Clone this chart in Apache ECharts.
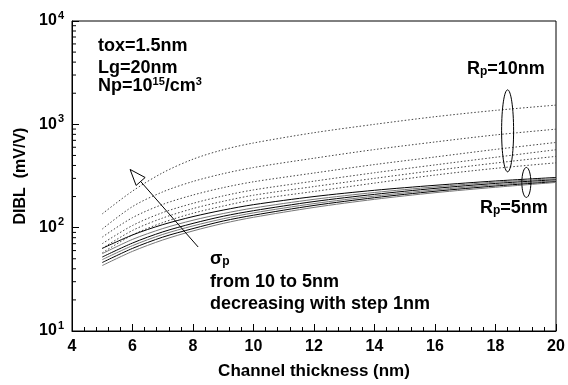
<!DOCTYPE html>
<html><head><meta charset="utf-8">
<script src="https://cdn.jsdelivr.net/npm/echarts@6/dist/echarts.min.js"></script>
<style>html,body{margin:0;padding:0;background:#fff}#c{width:568px;height:385px}</style>
</head><body><div id="c"></div>
<script>
// Channel thickness (nm)
const xThickness = [5, 6, 7, 8, 9, 10, 12, 14, 16, 18, 20];
// Rp = 10 nm (dotted), sigma_p = 10 .. 5 nm
const rp10_sig10 = [136, 226, 340, 460, 568, 660, 830, 1000, 1185, 1365, 1535];
const rp10_sig9  = [97, 160, 222, 280, 333, 382, 470, 570, 675, 790, 898];
const rp10_sig8  = [81, 125, 168, 207, 244, 278, 338, 408, 483, 572, 668];
const rp10_sig7  = [70, 105, 140, 172, 203, 232, 282, 340, 405, 480, 568];
const rp10_sig6  = [63, 94, 124, 153, 180, 206, 250, 300, 358, 422, 490];
const rp10_sig5  = [57, 85, 112, 138, 162, 186, 224, 270, 323, 375, 424];
// Rp = 5 nm (solid), sigma_p = 10 .. 5 nm
const rp5_sig10 = [63, 85, 107, 128, 148, 167, 200, 230, 257, 283, 306];
const rp5_sig9  = [56, 77, 98, 118, 137, 155, 188, 219, 248, 276, 298];
const rp5_sig8  = [52, 71, 91, 110, 129, 146, 179, 210, 240, 268, 291];
const rp5_sig7  = [49, 67, 86, 104, 122, 139, 171, 202, 232, 260, 285];
const rp5_sig6  = [46, 63, 81, 98, 116, 132, 164, 195, 225, 253, 279];
const rp5_sig5  = [43, 59, 76, 93, 110, 126, 157, 188, 218, 246, 274];

const dottedSets = [rp10_sig10, rp10_sig9, rp10_sig8, rp10_sig7, rp10_sig6, rp10_sig5];
const solidSets = [rp5_sig10, rp5_sig9, rp5_sig8, rp5_sig7, rp5_sig6, rp5_sig5];

const FONT = '"Liberation Sans", Arial, sans-serif';
const chart = echarts.init(document.getElementById('c'), null, {renderer: 'canvas'});

const series = [];
dottedSets.forEach((d, i) => {
  series.push({
    type: 'line', name: 'Rp=10nm σ' + (10 - i), smooth: 0.3, symbol: 'none',
    data: xThickness.map((x, k) => [x, d[k]]),
    lineStyle: {color: '#444', width: 1, type: [1.5, 2]}, z: 3
  });
});
solidSets.forEach((d, i) => {
  series.push({
    type: 'line', name: 'Rp=5nm σ' + (10 - i), smooth: 0.3, symbol: 'none',
    data: xThickness.map((x, k) => [x, d[k]]),
    lineStyle: {color: i % 2 ? '#777' : '#000', width: 1}, z: 4
  });
});

const option = {
  animation: false,
  backgroundColor: '#fff',
  grid: {left: 72, right: 12, top: 21, bottom: 52, show: true, borderColor: '#000', borderWidth: 1},
  xAxis: {
    type: 'value', min: 4, max: 20, interval: 2,
    name: 'Channel thickness (nm)', nameLocation: 'middle', nameGap: 32,
    nameTextStyle: {fontFamily: FONT, fontWeight: 'bold', fontSize: 17, color: '#000'},
    axisLine: {lineStyle: {color: '#000', width: 1}},
    axisTick: {inside: true, length: 7, lineStyle: {color: '#000'}},
    minorTick: {show: true, splitNumber: 5, length: 4, lineStyle: {color: '#000'}},
    splitLine: {show: false},
    axisLabel: {fontFamily: FONT, fontWeight: 'bold', fontSize: 16, color: '#000', margin: 8}
  },
  yAxis: {
    type: 'log', min: 10, max: 10000, logBase: 10,
    name: 'DIBL  (mV/V)', nameLocation: 'middle', nameGap: 42, nameRotate: 90,
    nameTextStyle: {fontFamily: FONT, fontWeight: 'bold', fontSize: 16, color: '#000'},
    axisLine: {lineStyle: {color: '#000', width: 1}},
    axisTick: {inside: true, length: 7, lineStyle: {color: '#000'}},
    splitLine: {show: false},
    axisLabel: {
      margin: 8,
      formatter: v => '{b|10}{s|' + Math.round(Math.log10(v)) + '}',
      rich: {
        b: {fontFamily: FONT, fontWeight: 'bold', fontSize: 16, color: '#000'},
        s: {fontFamily: FONT, fontWeight: 'bold', fontSize: 11, color: '#000', padding: [0, 0, 11, 1]}
      }
    }
  },
  series: series
};
chart.setOption(option);

// overlay annotations
const px = (x, y) => chart.convertToPixel({gridIndex: 0}, [x, y]);
const g = [];
// log minor ticks on y axis
const gridLeft = px(4, 10)[0];
[10, 100, 1000].forEach(dec => {
  for (let m = 2; m <= 9; m++) {
    const p = px(4, dec * m);
    g.push({type: 'line', shape: {x1: gridLeft, y1: p[1], x2: gridLeft + 4, y2: p[1]}, style: {stroke: '#000', lineWidth: 1}, z: 10});
  }
});
const txt = (left, top, text, rich) => ({
  type: 'text', left: left, top: top, z: 20,
  style: {text: text, fontFamily: FONT, fontWeight: 'bold', fontSize: 18, fill: '#000', rich: rich}
});
const supRich = {
  sup: {fontFamily: FONT, fontWeight: 'bold', fontSize: 11, fill: '#000', padding: [0, 0, 10, 0]},
  sub: {fontFamily: FONT, fontWeight: 'bold', fontSize: 12, fill: '#000', padding: [6, 0, 0, 0]},
  n: {fontFamily: FONT, fontWeight: 'bold', fontSize: 18, fill: '#000'}
};
g.push(txt(98, 37, 'tox=1.5nm'));
g.push(txt(98, 59, 'Lg=20nm'));
g.push(txt(98, 76, '{n|Np=10}{sup|15}{n|/cm}{sup|3}', supRich));
g.push(txt(467, 60, '{n|R}{sub|p}{n|=10nm}', supRich));
g.push(txt(480, 199, '{n|R}{sub|p}{n|=5nm}', supRich));
g.push(txt(210, 250, '{n|σ}{sub|p}', supRich));
g.push(txt(210, 273, 'from 10 to 5nm'));
g.push(txt(210, 295, 'decreasing with step 1nm'));
// ellipses
const e1 = px(18.4, 865), e2 = px(19.02, 274);
g.push({type: 'ellipse', shape: {cx: e1[0], cy: e1[1], rx: 6, ry: 41}, style: {fill: 'none', stroke: '#000', lineWidth: 1}, z: 15});
g.push({type: 'ellipse', shape: {cx: e2[0], cy: e2[1], rx: 4.5, ry: 15}, style: {fill: 'none', stroke: '#000', lineWidth: 1}, z: 15});
// arrow
const tail = px(8.17, 65), tip = px(5.92, 366);
const dx = tip[0] - tail[0], dy = tip[1] - tail[1], L = Math.hypot(dx, dy);
const ux = dx / L, uy = dy / L, nx = -uy, ny = ux, hl = 16, hw = 6;
const bx = tip[0] - hl * ux, by = tip[1] - hl * uy;
g.push({type: 'line', shape: {x1: tail[0], y1: tail[1], x2: bx, y2: by}, style: {stroke: '#000', lineWidth: 1}, z: 15});
g.push({type: 'polygon', shape: {points: [[tip[0], tip[1]], [bx + hw * nx, by + hw * ny], [bx - hw * nx, by - hw * ny]]}, style: {fill: '#fff', stroke: '#000', lineWidth: 1}, z: 15});
chart.setOption({graphic: g});
</script>
</body></html>
